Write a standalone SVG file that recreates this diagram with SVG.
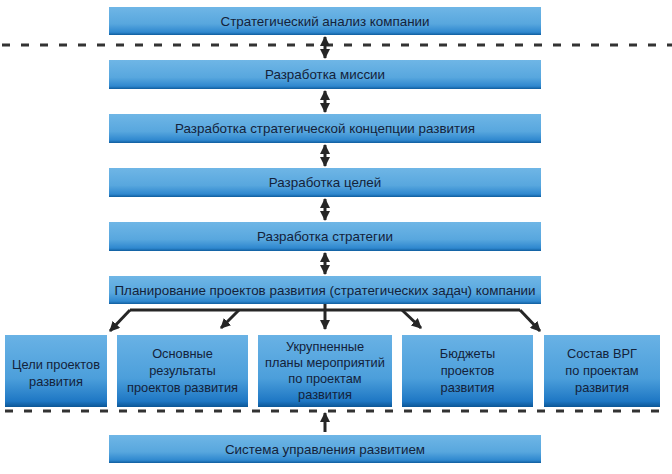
<svg xmlns="http://www.w3.org/2000/svg" width="672" height="474" viewBox="0 0 672 474">
<defs>
<linearGradient id="g1" x1="0" y1="0" x2="0" y2="1">
<stop offset="0" stop-color="#6fb6e6"/>
<stop offset="0.6" stop-color="#58a7de"/>
<stop offset="0.9" stop-color="#2f88cf"/>
<stop offset="1" stop-color="#0f5d9e"/>
</linearGradient>
<linearGradient id="g2" x1="0" y1="0" x2="0" y2="1">
<stop offset="0" stop-color="#69b2e5"/>
<stop offset="0.6" stop-color="#4c9fdb"/>
<stop offset="0.92" stop-color="#1e77c4"/>
<stop offset="1" stop-color="#0b5696"/>
</linearGradient>
<marker id="ah" viewBox="0 0 10 10" refX="9" refY="5" markerWidth="3.4" markerHeight="3.4" orient="auto-start-reverse">
<path d="M0,0 L10,5 L0,10 z" fill="#262626"/>
</marker>
</defs>
<style>
.b{fill:url(#g1)}
.s{fill:url(#g2)}
.t{font-family:"Liberation Sans","Noto Sans",sans-serif;font-size:13.4px;fill:#13223a;text-anchor:middle}
.u{font-size:12.8px}
.c{stroke:#262626;stroke-width:3;fill:none}
.d{stroke:#333;stroke-width:3;stroke-dasharray:8 11;fill:none}
</style>
<g id="dashes">
<line class="d" x1="2" y1="45" x2="672" y2="45"/>
<line class="d" x1="5" y1="411" x2="662" y2="411"/>
</g>
<g id="n1"><rect class="b" x="109" y="7" width="432" height="28"/><text class="t" x="325" y="25.5">Стратегический анализ компании</text></g>
<g id="n2"><rect class="b" x="109" y="60" width="432" height="29"/><text class="t" x="325" y="79">Разработка миссии</text></g>
<g id="n3"><rect class="b" x="109" y="114" width="432" height="29"/><text class="t" x="325" y="133">Разработка стратегической концепции развития</text></g>
<g id="n4"><rect class="b" x="109" y="168" width="432" height="29"/><text class="t" x="325" y="187">Разработка целей</text></g>
<g id="n5"><rect class="b" x="109" y="222" width="432" height="29"/><text class="t" x="325" y="241">Разработка стратегии</text></g>
<g id="n6"><rect class="b" x="109" y="276" width="432" height="28"/><text class="t" x="325" y="294.5">Планирование проектов развития (стратегических задач) компании</text></g>
<g id="n7"><rect class="s" x="5" y="335" width="102" height="72"/><text class="t u" x="56" y="369">Цели проектов</text><text class="t u" x="56" y="386">развития</text></g>
<g id="n8"><rect class="s" x="117" y="335" width="131" height="72"/><text class="t u" x="182.5" y="358">Основные</text><text class="t u" x="182.5" y="375">результаты</text><text class="t u" x="182.5" y="392">проектов развития</text></g>
<g id="n9"><rect class="s" x="258" y="335" width="134" height="72"/><text class="t u" x="325" y="351">Укрупненные</text><text class="t u" x="325" y="367">планы мероприятий</text><text class="t u" x="325" y="383">по проектам</text><text class="t u" x="325" y="399">развития</text></g>
<g id="n10"><rect class="s" x="402" y="335" width="131" height="72"/><text class="t u" x="467.5" y="358">Бюджеты</text><text class="t u" x="467.5" y="375">проектов</text><text class="t u" x="467.5" y="392">развития</text></g>
<g id="n11"><rect class="s" x="544" y="335" width="116" height="72"/><text class="t u" x="602" y="358">Состав ВРГ</text><text class="t u" x="602" y="375">по проектам</text><text class="t u" x="602" y="392">развития</text></g>
<g id="n12"><rect class="b" x="109" y="435" width="432" height="28"/><text class="t" x="325" y="453.5">Система управления развитием</text></g>
<g id="connectors">
<line class="c" x1="325" y1="37" x2="325" y2="58" marker-start="url(#ah)" marker-end="url(#ah)"/>
<line class="c" x1="325" y1="91" x2="325" y2="112" marker-start="url(#ah)" marker-end="url(#ah)"/>
<line class="c" x1="325" y1="145" x2="325" y2="166" marker-start="url(#ah)" marker-end="url(#ah)"/>
<line class="c" x1="325" y1="199" x2="325" y2="220" marker-start="url(#ah)" marker-end="url(#ah)"/>
<line class="c" x1="325" y1="253" x2="325" y2="274" marker-start="url(#ah)" marker-end="url(#ah)"/>
<line class="c" x1="130" y1="310" x2="520" y2="310"/>
<line class="c" x1="325" y1="304" x2="325" y2="310"/>
<line class="c" x1="130" y1="310" x2="110" y2="331" marker-end="url(#ah)"/>
<line class="c" x1="239" y1="310" x2="221" y2="328" marker-end="url(#ah)"/>
<line class="c" x1="325" y1="310" x2="325" y2="329" marker-end="url(#ah)"/>
<line class="c" x1="402" y1="310" x2="421" y2="328" marker-end="url(#ah)"/>
<line class="c" x1="520" y1="310" x2="540" y2="331" marker-end="url(#ah)"/>
<line class="c" x1="325" y1="432" x2="325" y2="413" marker-end="url(#ah)"/>
</g>
</svg>
